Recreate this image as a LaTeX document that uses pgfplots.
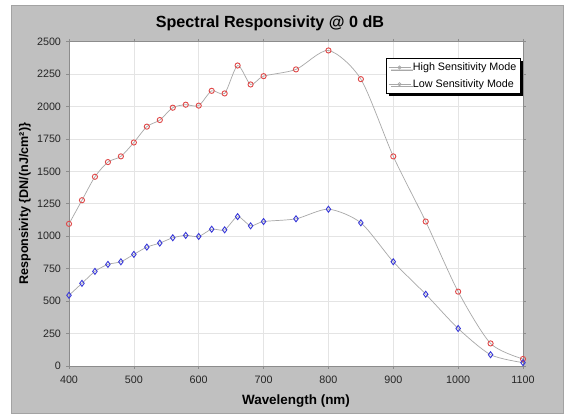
\documentclass[border=0pt]{standalone}
\usepackage{fontspec}
\setmainfont{Liberation Sans}
\usepackage{pgfplots}
\pgfplotsset{compat=1.18}
\usetikzlibrary{shadows}

\definecolor{chartbg}{HTML}{C0C0C0}
\definecolor{frame}{HTML}{8C8C8C}
\definecolor{curve}{HTML}{A8A8A8}
\definecolor{gridc}{HTML}{E4E4E4}
\definecolor{hired}{HTML}{E04848}
\definecolor{loblue}{HTML}{3838D8}

\begin{document}
\begin{tikzpicture}
\useasboundingbox (0,0) rectangle (573bp,418bp);
\fill[white] (0,0) rectangle (573bp,418bp);
\filldraw[fill=chartbg, draw=frame!80, line width=0.8bp] (11bp,5bp) rectangle (563bp,413bp);
\node[font=\bfseries\fontsize{16.2}{18}\selectfont] at (270bp,395bp) {Spectral Responsivity @ 0 dB};

\begin{axis}[
    at={(69bp,52bp)}, anchor=south west,
    scale only axis,
    width=454bp, height=324.5bp,
    xmin=400, xmax=1100, ymin=0, ymax=2500,
    xtick={400,500,...,1100},
    ytick={0,250,...,2500},
    axis background/.style={fill=white},
    axis line style={frame, line width=0.8bp},
    grid=major,
    major grid style={gridc, line width=0.6bp},
    tick style={frame, line width=0.6bp},
    tick align=outside, major tick length=2.5bp,
    ticklabel style={font=\fontsize{10.8}{12}\selectfont, text=black!85},
    /pgf/number format/assume math mode=true,
    /pgf/number format/1000 sep={},
    xticklabel style={yshift=-4bp},
    yticklabel style={xshift=-2bp},
    xlabel={Wavelength (nm)},
    ylabel={Responsivity \{DN/(nJ/cm²)\}},
    xlabel style={font=\bfseries\fontsize{13.5}{15}\selectfont,
        at={(axis description cs:0.5,-0.108)}, anchor=center},
    ylabel style={font=\bfseries\fontsize{12.6}{14}\selectfont,
        at={(axis description cs:-0.097,0.5)}, anchor=center},
    legend cell align=left,
    legend image code/.code={
        \draw[mark repeat=2, mark phase=2, #1]
            plot coordinates {(0bp,0bp) (11bp,0bp) (22bp,0bp)};},
    legend style={at={(axis description cs:0.698,0.949)}, anchor=north west,
        draw=black, line width=0.6bp, fill=white,
        drop shadow={shadow xshift=2.5bp, shadow yshift=-2.5bp, fill=black, opacity=1},
        font=\fontsize{10.8}{12}\selectfont,
        inner xsep=2bp, inner ysep=2.5bp, row sep=3.5bp},
]
\addplot[curve, line width=0.7bp, smooth, tension=0.45,
    mark=o, mark size=2.6bp, mark options={hired, line width=0.9bp}, forget plot]
coordinates {
(400,1095) (420,1277) (440,1458) (460,1571) (480,1615) (500,1722)
(520,1844) (540,1895) (560,1990) (580,2013) (600,2006) (620,2120)
(640,2100) (660,2315) (680,2169) (700,2233) (750,2285) (800,2431)
(850,2210) (900,1615) (950,1113) (1000,573) (1050,174) (1100,54)
};
\addplot[curve, line width=0.7bp, smooth, tension=0.45,
    mark=diamond, mark size=3bp, mark options={loblue, line width=0.9bp}, forget plot]
coordinates {
(400,545) (420,637) (440,729) (460,783) (480,803) (500,860)
(520,916) (540,947) (560,988) (580,1006) (600,998) (620,1054)
(640,1049) (660,1151) (680,1080) (700,1113) (750,1134) (800,1208)
(850,1103) (900,803) (950,553) (1000,289) (1050,87) (1100,26)
};
\addlegendimage{curve, line width=0.7bp, mark=o, mark size=1.6bp, mark options={curve}}
\addlegendentry{High Sensitivity Mode}
\addlegendimage{curve, line width=0.7bp, mark=o, mark size=1.6bp, mark options={curve}}
\addlegendentry{Low Sensitivity Mode}
\end{axis}
\end{tikzpicture}
\end{document}
